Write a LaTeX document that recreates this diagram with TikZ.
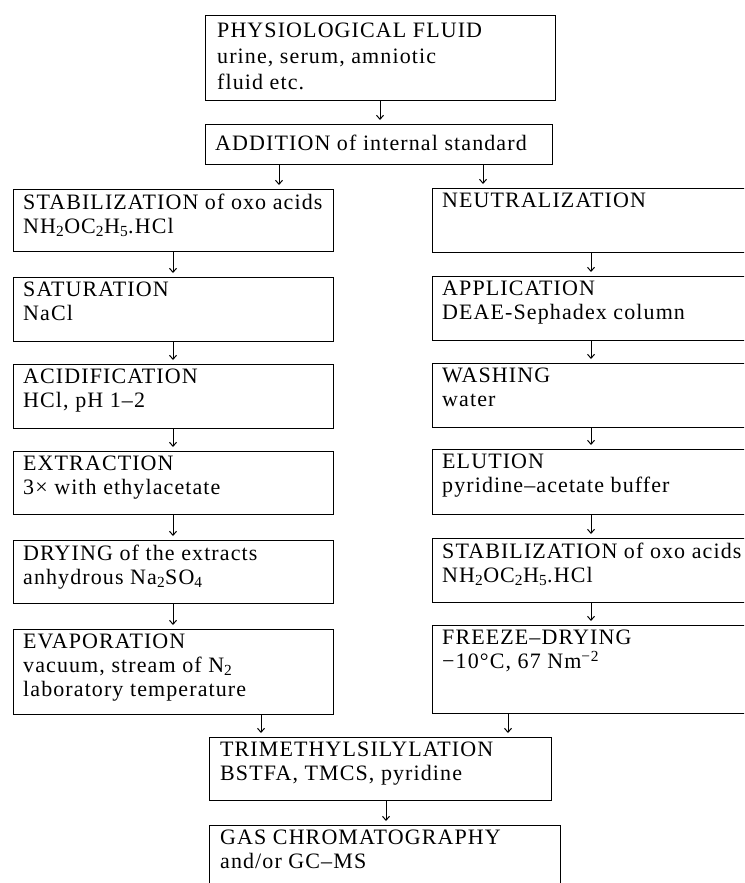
\documentclass[tikz,border=0pt]{standalone}
\usepackage{fontspec}
\setmainfont{Liberation Serif}[LetterSpace=5]
\usetikzlibrary{arrows.meta}
\begin{document}
\begin{tikzpicture}[x=1pt,y=-1pt,
  box/.style={draw, line width=1.3pt, rectangle, inner sep=0pt, anchor=north west},
  txt/.style={anchor=north west, inner sep=0pt, align=left, font=\fontsize{22}{24}\selectfont},
  arr/.style={line width=1pt, -{Straight Barb[length=4pt,width=7pt]}, shorten >=4pt}]
\useasboundingbox (0,0) rectangle (744,883);
\clip (0,0) rectangle (744,883);
% top
\node[box, minimum width=350pt, minimum height=85pt] (phys) at (205,15) {};
\node[txt, font=\fontsize{22}{26}\selectfont] (physT) at ([xshift=12pt,yshift=-8pt]phys.north west) {PHYSIOLOGICAL FLUID\\urine, serum, amniotic\\fluid etc.};
\node[box, minimum width=347pt, minimum height=40pt] (add) at (205,124) {};
\node[txt] (addT) at ([xshift=10pt,yshift=-11pt]add.north west) {ADDITION of internal standard};
% left column
\node[box, minimum width=320pt, minimum height=62pt] (stabL) at (13,189) {};
\node[txt] (stabLT) at ([xshift=10pt,yshift=-5pt]stabL.north west) {STABILIZATION of oxo acids\\NH\textsubscript{2}OC\textsubscript{2}H\textsubscript{5}.HCl};
\node[box, minimum width=320pt, minimum height=64pt] (sat) at (13,277) {};
\node[txt] (satT) at ([xshift=10pt,yshift=-5pt]sat.north west) {SATURATION\\NaCl};
\node[box, minimum width=320pt, minimum height=64pt] (acid) at (13,364) {};
\node[txt] (acidT) at ([xshift=10pt,yshift=-5pt]acid.north west) {ACIDIFICATION\\HCl, pH 1–2};
\node[box, minimum width=320pt, minimum height=63pt] (extr) at (13,451) {};
\node[txt] (extrT) at ([xshift=10pt,yshift=-5pt]extr.north west) {EXTRACTION\\3× with ethylacetate};
\node[box, minimum width=320pt, minimum height=63pt] (dry) at (13,540) {};
\node[txt] (dryT) at ([xshift=10pt,yshift=-5pt]dry.north west) {DRYING of the extracts\\anhydrous Na\textsubscript{2}SO\textsubscript{4}};
\node[box, minimum width=320pt, minimum height=85pt] (evap) at (13,629) {};
\node[txt] (evapT) at ([xshift=10pt,yshift=-5pt]evap.north west) {EVAPORATION\\vacuum, stream of N\textsubscript{2}\\laboratory temperature};
% right column
\node[box, minimum width=330pt, minimum height=64pt] (neut) at (432,188) {};
\node[txt] (neutT) at ([xshift=10pt,yshift=-5pt]neut.north west) {NEUTRALIZATION};
\node[box, minimum width=330pt, minimum height=64pt] (appl) at (432,276) {};
\node[txt] (applT) at ([xshift=10pt,yshift=-5pt]appl.north west) {APPLICATION\\DEAE-Sephadex column};
\node[box, minimum width=330pt, minimum height=64pt] (wash) at (432,363) {};
\node[txt] (washT) at ([xshift=10pt,yshift=-5pt]wash.north west) {WASHING\\water};
\node[box, minimum width=330pt, minimum height=65pt] (elut) at (432,449) {};
\node[txt] (elutT) at ([xshift=10pt,yshift=-5pt]elut.north west) {ELUTION\\pyridine–acetate buffer};
\node[box, minimum width=330pt, minimum height=64pt] (stabR) at (432,538) {};
\node[txt] (stabRT) at ([xshift=10pt,yshift=-5pt]stabR.north west) {STABILIZATION of oxo acids\\NH\textsubscript{2}OC\textsubscript{2}H\textsubscript{5}.HCl};
\node[box, minimum width=330pt, minimum height=88pt] (freeze) at (432,625) {};
\node[txt] (freezeT) at ([xshift=10pt,yshift=-5pt]freeze.north west) {FREEZE–DRYING\\−10°C, 67 Nm\textsuperscript{−2}};
% bottom
\node[box, minimum width=342pt, minimum height=63pt] (trim) at (209,737) {};
\node[txt] (trimT) at ([xshift=11pt,yshift=-5pt]trim.north west) {TRIMETHYLSILYLATION\\BSTFA, TMCS, pyridine};
\node[box, minimum width=351pt, minimum height=90pt] (gas) at (209,825) {};
\node[txt] (gasT) at ([xshift=11pt,yshift=-5pt]gas.north west) {GAS CHROMATOGRAPHY\\and/or GC–MS};
% arrows
\draw[arr] (phys.south -| 380,0) -- (add.north -| 380,0);
\draw[arr] (add.south -| 279,0) -- (stabL.north -| 279,0);
\draw[arr] (add.south -| 483,0) -- (neut.north -| 483,0);
\draw[arr] (stabL.south -| 173,0) -- (sat.north -| 173,0);
\draw[arr] (sat.south -| 173,0) -- (acid.north -| 173,0);
\draw[arr] (acid.south -| 173,0) -- (extr.north -| 173,0);
\draw[arr] (extr.south -| 173,0) -- (dry.north -| 173,0);
\draw[arr] (dry.south -| 173,0) -- (evap.north -| 173,0);
\draw[arr] (neut.south -| 591,0) -- (appl.north -| 591,0);
\draw[arr] (appl.south -| 591,0) -- (wash.north -| 591,0);
\draw[arr] (wash.south -| 591,0) -- (elut.north -| 591,0);
\draw[arr] (elut.south -| 591,0) -- (stabR.north -| 591,0);
\draw[arr] (stabR.south -| 591,0) -- (freeze.north -| 591,0);
\draw[arr] (evap.south -| 261,0) -- (trim.north -| 261,0);
\draw[arr] (freeze.south -| 508,0) -- (trim.north -| 508,0);
\draw[arr] (trim.south -| 386,0) -- (gas.north -| 386,0);
\end{tikzpicture}
\end{document}
